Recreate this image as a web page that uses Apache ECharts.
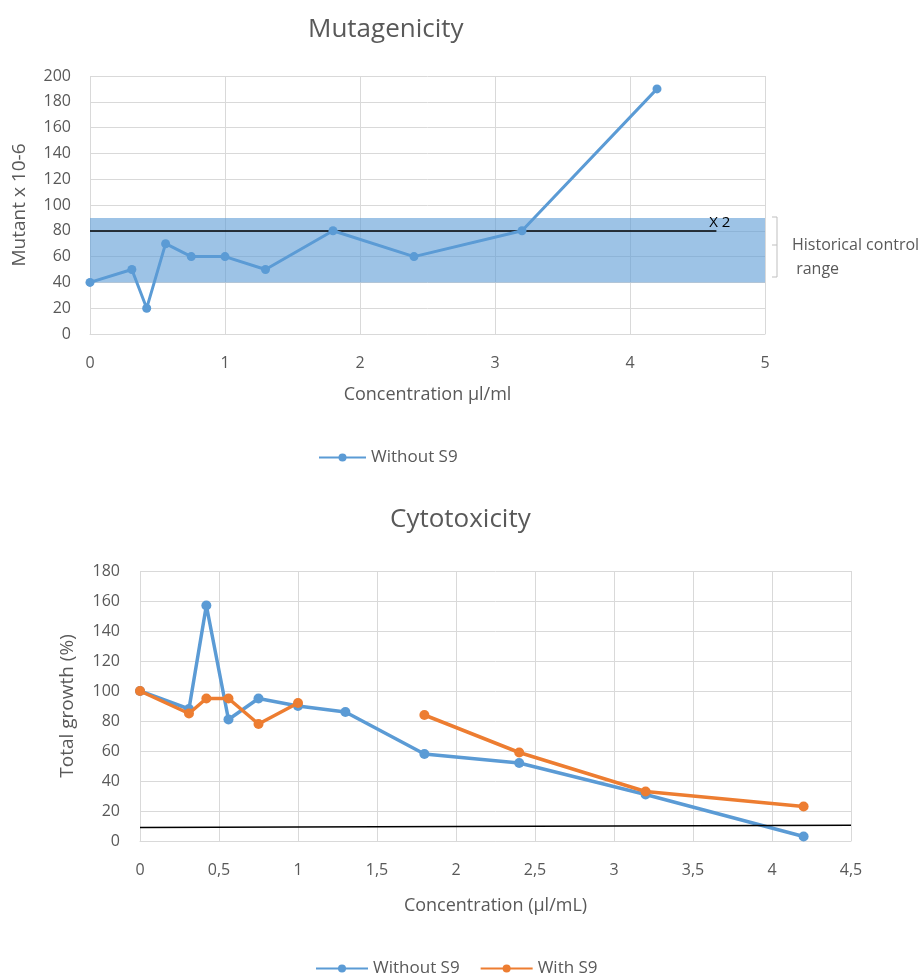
<!DOCTYPE html>
<html>
<head>
    <meta charset="UTF-8">
    <title>Mutagenicity / Cytotoxicity</title>
    <script src="https://cdn.jsdelivr.net/npm/echarts@6/dist/echarts.min.js"></script>
    <style>
        html, body { margin: 0; padding: 0; background: #fff; }
        #main { width: 923px; height: 976px; }
    </style>
</head>
<body>
<div id="main"></div>
<script>
    // top chart: mutant frequency, without S9
    var mutConc = [0, 0.31, 0.42, 0.56, 0.75, 1, 1.3, 1.8, 2.4, 3.2, 4.2];
    var mutWithout = [40, 50, 20, 70, 60, 60, 50, 80, 60, 80, 190];
    var histRange = [40, 90];      // historical control range
    var x2Level = 80;              // 2x control line
    var x2End = 4.64;

    // bottom chart: total growth
    var cytConc = [0, 0.31, 0.42, 0.56, 0.75, 1, 1.3, 1.8, 2.4, 3.2, 4.2];
    var cytWithout = [100, 88, 157, 81, 95, 90, 86, 58, 52, 31, 3];
    var cytWith = [100, 85, 95, 95, 78, 92, null, 84, 59, 33, 23];
    var cutLine = [[0, 9], [4.5, 10.5]];

    var FONT = 'Open Sans';
    var GREY = '#595959';
    var BLUE = '#5b9bd5';
    var ORANGE = '#ed7d31';

    function pairs(xs, ys) {
        return xs.map(function (x, i) { return [x, ys[i]]; });
    }

    var myChart = echarts.init(document.getElementById('main'));

    var axisText = { color: GREY, fontFamily: FONT, fontSize: 16 };
    var nameText = { color: GREY, fontFamily: FONT, fontSize: 18 };
    var grid = { lineStyle: { color: '#d9d9d9', width: 1 } };

    option = {
        animation: false,
        textStyle: { fontFamily: FONT },
        title: [
            { text: 'Mutagenicity', left: 303, top: 12,
              textStyle: { color: GREY, fontFamily: FONT, fontSize: 26, fontWeight: 'normal' } },
            { text: 'Cytotoxicity', left: 385, top: 502,
              textStyle: { color: GREY, fontFamily: FONT, fontSize: 26, fontWeight: 'normal' } }
        ],
        legend: [
            { data: ['Without S9'], left: 313, top: 444, itemWidth: 47, itemHeight: 10, itemGap: 20,
              textStyle: { color: GREY, fontSize: 17, fontFamily: FONT } },
            { data: ['Without S9', 'With S9'], left: 310, top: 955, itemWidth: 52, itemHeight: 10, itemGap: 20,
              textStyle: { color: GREY, fontSize: 17, fontFamily: FONT } }
        ],
        grid: [
            { left: 90, top: 76, width: 675, height: 258 },
            { left: 140, top: 571, width: 711, height: 270 }
        ],
        xAxis: [
            { type: 'value', gridIndex: 0, min: 0, max: 5, interval: 1,
              name: 'Concentration µl/ml', nameLocation: 'middle', nameGap: 52,
              nameTextStyle: nameText,
              axisLine: { lineStyle: { color: '#d9d9d9' } }, axisTick: { show: false },
              axisLabel: Object.assign({ margin: 21 }, axisText), splitLine: grid },
            { type: 'value', gridIndex: 1, min: 0, max: 4.5, interval: 0.5,
              name: 'Concentration (µl/mL)', nameLocation: 'middle', nameGap: 56,
              nameTextStyle: nameText,
              axisLine: { lineStyle: { color: '#d9d9d9' } }, axisTick: { show: false },
              axisLabel: Object.assign({ margin: 21,
                  formatter: function (v) { return String(v).replace('.', ','); } }, axisText),
              splitLine: grid }
        ],
        yAxis: [
            { type: 'value', gridIndex: 0, min: 0, max: 200, interval: 20,
              name: 'Mutant x 10-6', nameLocation: 'middle', nameGap: 61,
              nameTextStyle: Object.assign({}, nameText, { fontSize: 19 }),
              axisLine: { show: false }, axisTick: { show: false },
              axisLabel: Object.assign({ margin: 19 }, axisText), splitLine: grid },
            { type: 'value', gridIndex: 1, min: 0, max: 180, interval: 20,
              name: 'Total growth (%)', nameLocation: 'middle', nameGap: 63,
              nameTextStyle: Object.assign({}, nameText, { fontSize: 19 }),
              axisLine: { show: false }, axisTick: { show: false },
              axisLabel: Object.assign({ margin: 20 }, axisText), splitLine: grid }
        ],
        series: [
            {
                name: 'Without S9', type: 'line', xAxisIndex: 0, yAxisIndex: 0,
                data: pairs(mutConc, mutWithout),
                color: BLUE, symbol: 'circle', symbolSize: 9,
                lineStyle: { width: 3 }, z: 5,
                markArea: {
                    silent: true,
                    itemStyle: { color: 'rgba(91,155,213,0.6)' },
                    data: [[{ coord: [0, histRange[0]] }, { coord: [5, histRange[1]] }]]
                },
                markLine: {
                    silent: true, symbol: 'none',
                    lineStyle: { color: '#000', width: 1.5, type: 'solid' },
                    label: { show: true, position: 'insideEndTop', formatter: 'X 2',
                             color: '#000', fontSize: 15, fontFamily: FONT, distance: [-14, 1] },
                    data: [[{ coord: [0, x2Level] }, { coord: [x2End, x2Level] }]]
                }
            },
            {
                name: 'Without S9', type: 'line', xAxisIndex: 1, yAxisIndex: 1,
                data: pairs(cytConc, cytWithout),
                color: BLUE, symbol: 'circle', symbolSize: 10,
                lineStyle: { width: 3.5 }, z: 4,
                markLine: {
                    silent: true, symbol: 'none', label: { show: false },
                    lineStyle: { color: '#000', width: 1.5, type: 'solid' },
                    data: [[{ coord: cutLine[0] }, { coord: cutLine[1] }]]
                }
            },
            {
                name: 'With S9', type: 'line', xAxisIndex: 1, yAxisIndex: 1,
                data: pairs(cytConc, cytWith), connectNulls: false,
                color: ORANGE, symbol: 'circle', symbolSize: 10,
                lineStyle: { width: 3.5 }, z: 5
            }
        ],
        graphic: [
            // bracket for the historical control range
            { type: 'polyline', shape: { points: [[772, 217], [777, 217], [777, 277], [772, 277]] },
              style: { stroke: '#bfbfbf', lineWidth: 1, fill: null } },
            { type: 'line', shape: { x1: 772, y1: 245, x2: 777, y2: 245 },
              style: { stroke: '#bfbfbf', lineWidth: 1 } },
            { type: 'text', left: 792, top: 233,
              style: { text: 'Historical control\n range', fill: GREY, font: '16px "Open Sans"', lineHeight: 24 } }
        ]
    };
    myChart.setOption(option);
</script>
</body>
</html>
